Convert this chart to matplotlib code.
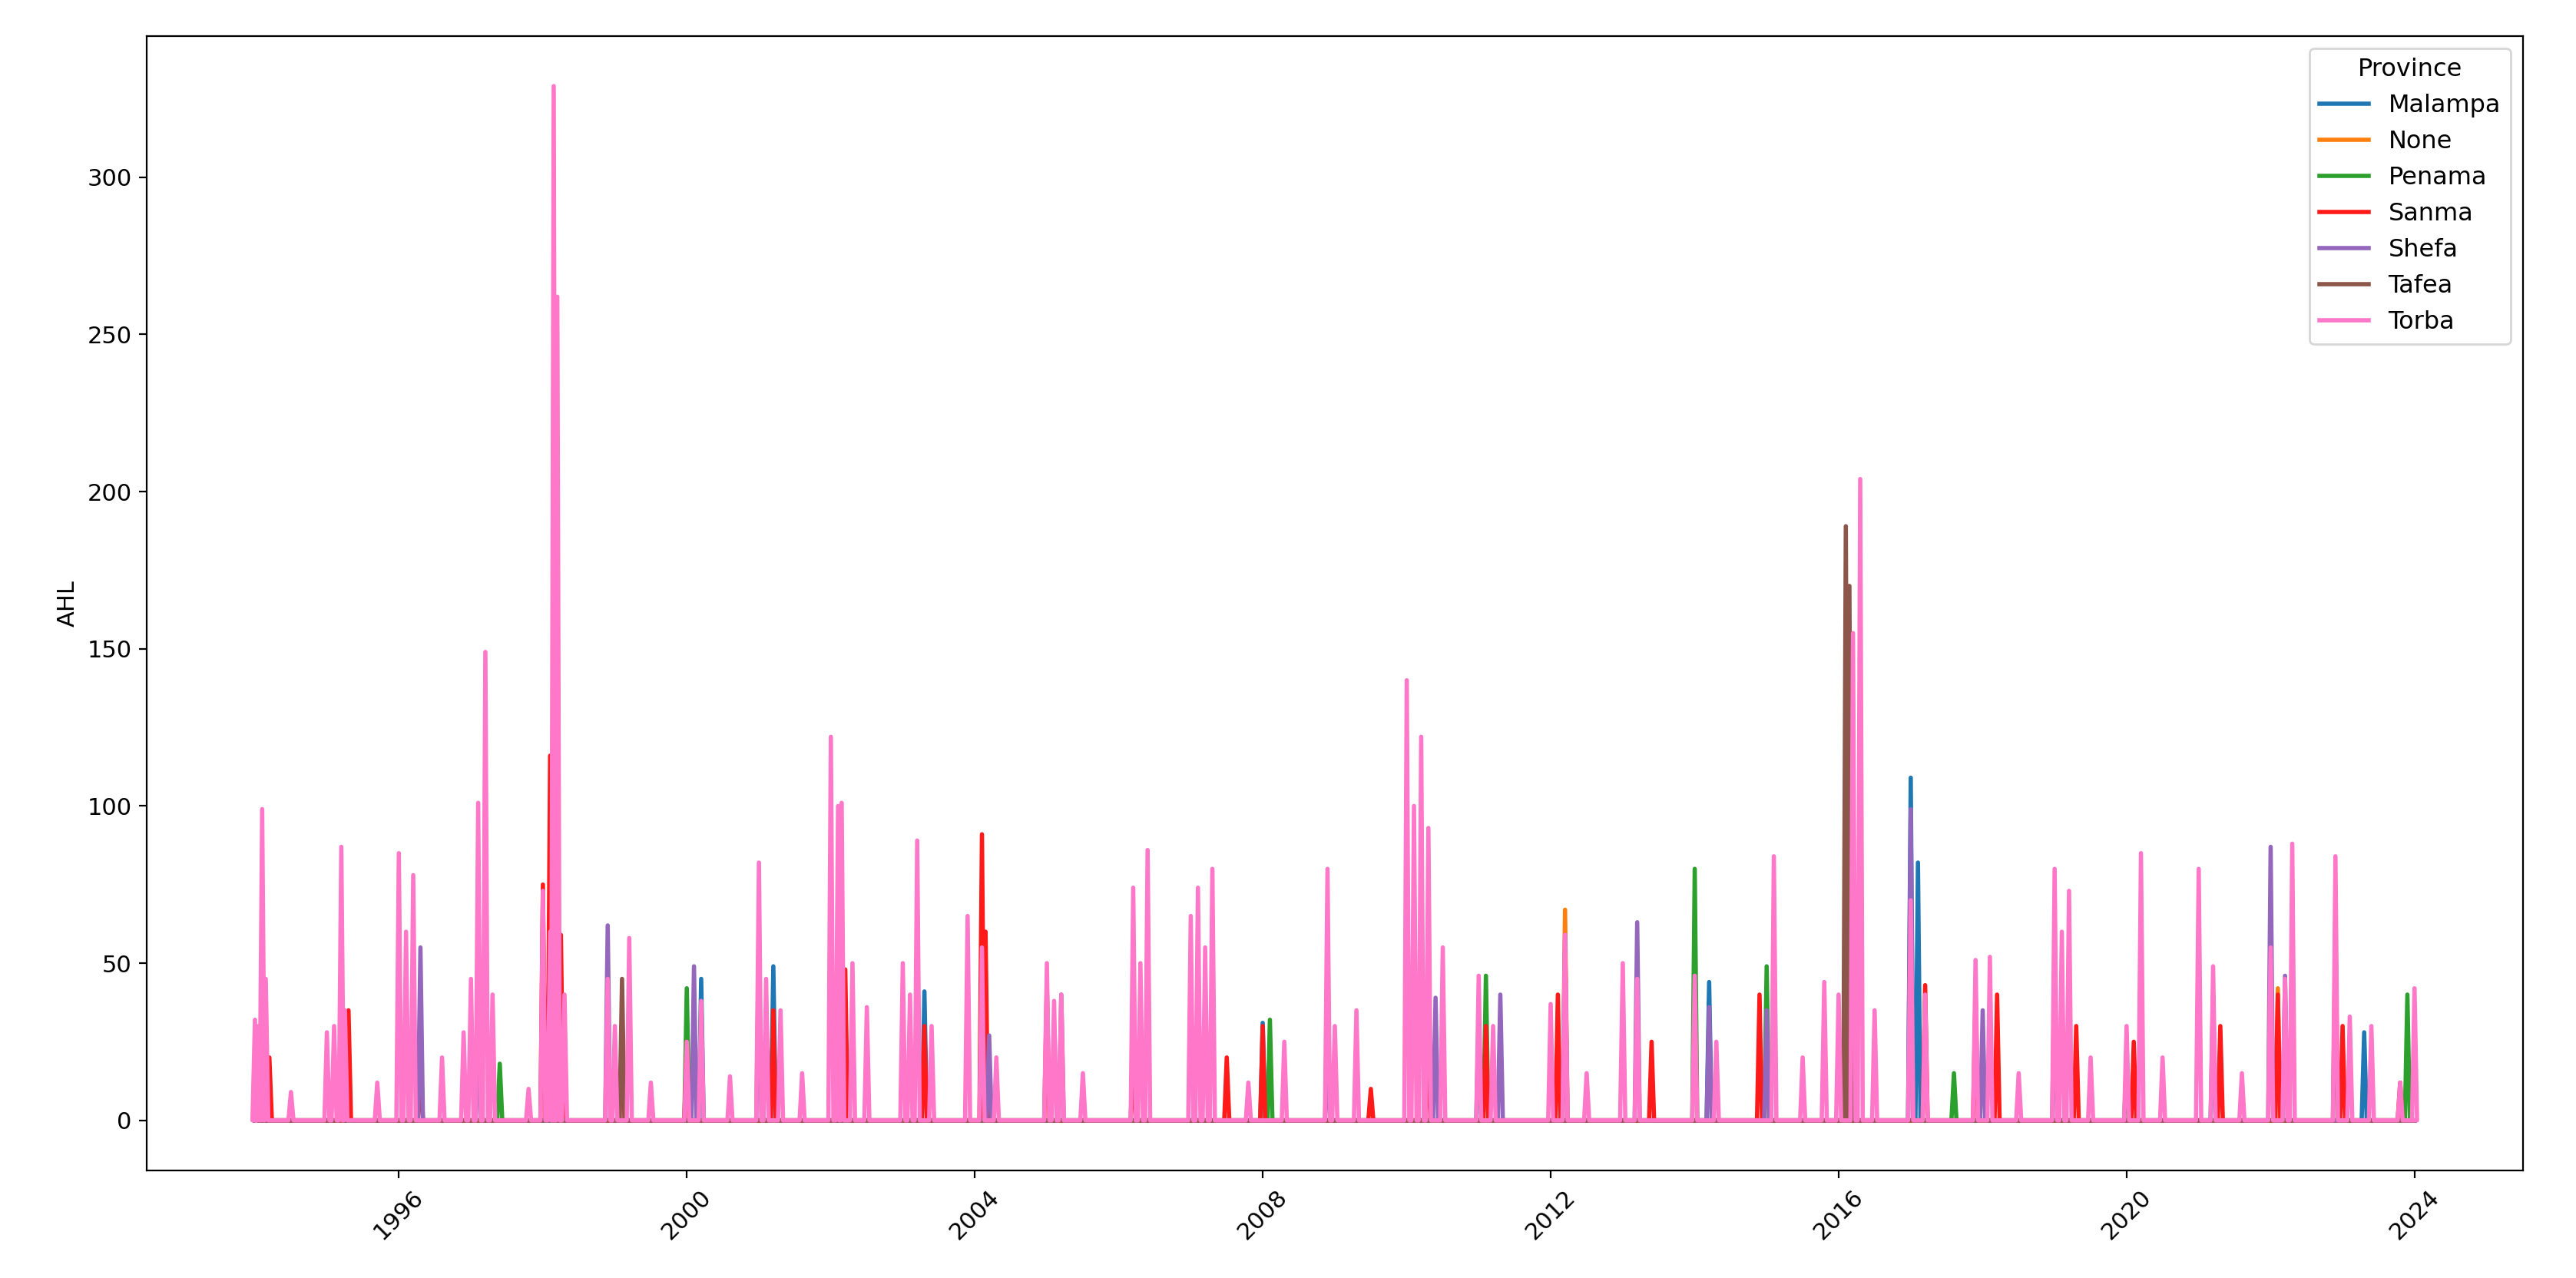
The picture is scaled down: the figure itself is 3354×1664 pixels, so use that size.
import numpy as np
import pandas as pd
import matplotlib.pyplot as plt
import matplotlib.dates as mdates

# Peak events: decimal year -> AHL
torba_t = [1994.0, 1994.05, 1994.1, 1994.15, 1994.5, 1995.0, 1995.1, 1995.2, 1995.25, 1995.7,
           1996.0, 1996.1, 1996.2, 1996.6, 1996.9, 1997.0, 1997.1, 1997.2, 1997.3, 1997.8,
           1998.0, 1998.1, 1998.15, 1998.2, 1998.3, 1998.9, 1999.0, 1999.2, 1999.5, 2000.0,
           2000.2, 2000.6, 2001.0, 2001.1, 2001.3, 2001.6, 2002.0, 2002.1, 2002.15, 2002.3,
           2002.5, 2003.0, 2003.1, 2003.2, 2003.4, 2003.9, 2004.1, 2004.3, 2005.0, 2005.1,
           2005.2, 2005.5, 2006.2, 2006.3, 2006.4, 2007.0, 2007.1, 2007.2, 2007.3, 2007.8,
           2008.3, 2008.9, 2009.0, 2009.3, 2010.0, 2010.1, 2010.2, 2010.3, 2010.5, 2011.0,
           2011.2, 2012.0, 2012.2, 2012.5, 2013.0, 2013.2, 2014.0, 2014.3, 2015.1, 2015.5,
           2015.8, 2016.0, 2016.2, 2016.3, 2016.5, 2017.0, 2017.2, 2017.9, 2018.1, 2018.5,
           2019.0, 2019.1, 2019.2, 2019.5, 2020.0, 2020.2, 2020.5, 2021.0, 2021.2, 2021.6,
           2022.0, 2022.2, 2022.3, 2022.9, 2023.1, 2023.4, 2023.8, 2024.0]
torba_v = [32, 30, 99, 45, 9, 28, 30, 87, 35, 12,
           85, 60, 78, 20, 28, 45, 101, 149, 40, 10,
           73, 60, 329, 262, 40, 45, 30, 58, 12, 25,
           38, 14, 82, 45, 35, 15, 122, 100, 101, 50,
           36, 50, 40, 89, 30, 65, 55, 20, 50, 38,
           40, 15, 74, 50, 86, 65, 74, 55, 80, 12,
           25, 80, 30, 35, 140, 100, 122, 93, 55, 46,
           30, 37, 59, 15, 50, 45, 46, 25, 84, 20,
           44, 40, 155, 204, 35, 70, 40, 51, 52, 15,
           80, 60, 73, 20, 30, 85, 20, 80, 49, 15,
           55, 45, 88, 84, 33, 30, 12, 42]
sanma_t = [1994.2, 1995.3, 1996.3, 1998.0, 1998.1, 1998.25, 1999.1, 2000.0, 2001.2, 2002.2,
           2003.3, 2004.1, 2004.15, 2005.0, 2006.2, 2007.5, 2008.0, 2009.5, 2010.3, 2011.1,
           2012.1, 2013.4, 2014.9, 2016.1, 2017.2, 2017.9, 2018.2, 2019.3, 2020.1, 2021.3,
           2022.1, 2023.0, 2023.8]
sanma_v = [20, 35, 20, 75, 116, 59, 30, 25, 35, 48, 30, 91, 60, 43, 25, 20, 30, 10, 30, 30,
           40, 25, 40, 30, 43, 40, 40, 30, 25, 30, 40, 30, 12]
shefa_t = [1995.2, 1996.3, 1997.1, 1998.9, 2000.1, 2001.0, 2004.2, 2005.2, 2008.9, 2010.4,
           2011.3, 2012.2, 2013.2, 2014.2, 2015.0, 2017.0, 2018.0, 2019.0, 2022.0, 2022.2]
shefa_v = [47, 55, 46, 62, 49, 58, 27, 40, 26, 39, 40, 59, 63, 36, 35, 99, 35, 52, 87, 46]
malampa_t = [1997.1, 2000.2, 2001.2, 2003.3, 2008.0, 2011.0, 2014.2, 2017.0, 2017.1, 2021.2, 2023.3]
malampa_v = [47, 45, 49, 41, 31, 33, 44, 109, 82, 40, 28]
penama_t = [1995.2, 1997.4, 2000.0, 2008.1, 2011.1, 2014.0, 2015.0, 2017.6, 2020.0, 2023.9]
penama_v = [37, 18, 42, 32, 46, 80, 49, 15, 17, 40]
tafea_t = [1998.15, 1999.1, 2016.1, 2016.15, 2022.9]
tafea_v = [120, 45, 189, 170, 60]
none_t = [2012.2, 2022.1]
none_v = [67, 42]

provinces = ['Malampa', 'None', 'Penama', 'Sanma', 'Shefa', 'Tafea', 'Torba']
series = {
    'Malampa': (malampa_t, malampa_v),
    'None': (none_t, none_v),
    'Penama': (penama_t, penama_v),
    'Sanma': (sanma_t, sanma_v),
    'Shefa': (shefa_t, shefa_v),
    'Tafea': (tafea_t, tafea_v),
    'Torba': (torba_t, torba_v),
}
colors = ['#1f77b4', '#ff7f0e', '#2ca02c', '#ff1a1a', '#9467bd', '#8c564b', '#ff77c8']


def to_date(y):
    y0 = int(np.floor(y))
    start = pd.Timestamp(year=y0, month=1, day=1)
    return start + pd.Timedelta(days=(y - y0) * 365.25)


def spikes(t, v, w=0.035):
    # each event drawn as a narrow spike from the zero baseline
    xs, ys = [], []
    for ti, vi in zip(t, v):
        xs += [to_date(ti - w), to_date(ti), to_date(ti + w)]
        ys += [0, vi, 0]
    return xs, ys


fig = plt.figure(figsize=(16.775, 8.32), dpi=200)
ax = fig.add_axes([0.057, 0.084, 0.922, 0.888])
for name, c in zip(provinces, colors):
    t, v = series[name]
    xs, ys = spikes(t, v)
    xs = [to_date(1994.0)] + xs + [to_date(2024.0)]
    ys = [0] + ys + [0]
    ax.plot(xs, ys, color=c, lw=2.0, label=name)

ax.set_ylabel('AHL', fontsize=11)
ax.xaxis.set_major_locator(mdates.YearLocator(4))
ax.xaxis.set_major_formatter(mdates.DateFormatter('%Y'))
ax.set_xlim(to_date(1992.5), to_date(2025.5))
ax.set_ylim(-16, 345)
ax.tick_params(labelsize=11)
plt.setp(ax.get_xticklabels(), rotation=45)
ax.legend(title='Province', loc='upper right', fontsize=11.5, title_fontsize=11.5)
fig.savefig('out.png', dpi=200)
